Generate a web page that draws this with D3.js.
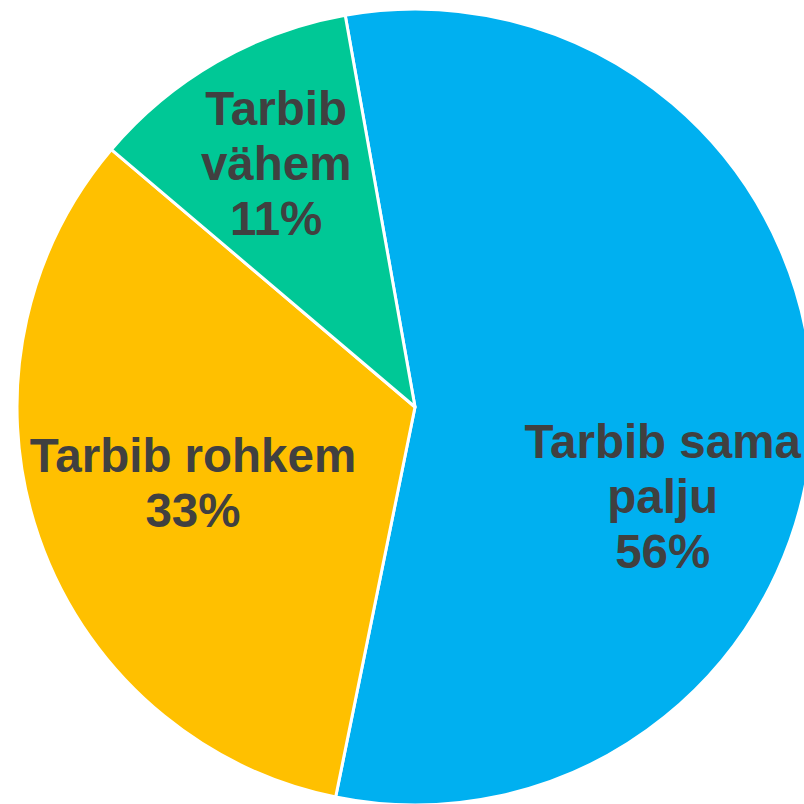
<!DOCTYPE html>
<html>
<head>
<meta charset="utf-8">
<script src="https://cdn.jsdelivr.net/npm/d3@7"></script>
<style>
  html, body { margin: 0; padding: 0; background: #fff; overflow: hidden; }
  svg { display: block; }
</style>
</head>
<body>
<svg id="chart" width="804" height="804"></svg>
<script>
// categories and values (percent)
const categories = ["Tarbib sama palju", "Tarbib rohkem", "Tarbib vähem"];
const values = [56, 33, 11];
const labelLines = [["Tarbib sama", "palju", "56%"], ["Tarbib rohkem", "33%"], ["Tarbib", "vähem", "11%"]];
const colors = ["#00B0F0", "#FFC000", "#00C896"];

const width = 804, height = 804;
const cx = 415, cy = 407, radius = 398;
const startAngle = -10.1 * Math.PI / 180;

const svg = d3.select('#chart');
const g = svg.append('g').attr('transform', `translate(${cx},${cy})`);

const pie = d3.pie()
  .sort(null)
  .value((d) => d)
  .startAngle(startAngle)
  .endAngle(startAngle + 2 * Math.PI);

const arcs = pie(values);
const arc = d3.arc().innerRadius(0).outerRadius(radius);

g.selectAll('path.slice')
  .data(arcs)
  .join('path')
  .attr('class', 'slice')
  .attr('d', arc)
  .attr('fill', (d, i) => colors[i])
  .attr('stroke', '#fff')
  .attr('stroke-width', 3)
  .attr('stroke-linejoin', 'round');

// label placement: radius fraction and small nudges to mimic best-fit labels
const labelRadius = [0.66, 0.585, 0.705];
const labelNudge = [[-15, 86], [-2, 0], [1, 0]];
const fontSize = 47.5, lineHeight = 55;

const labels = g.selectAll('text.lbl')
  .data(arcs)
  .join('text')
  .attr('class', 'lbl')
  .attr('font-family', 'Liberation Sans, Arial, sans-serif')
  .attr('font-weight', 'bold')
  .attr('font-size', fontSize)
  .attr('fill', '#404040')
  .attr('text-anchor', 'middle')
  .attr('transform', (d, i) => {
    const r = radius * labelRadius[i];
    const c = d3.arc().innerRadius(r).outerRadius(r).centroid(d);
    return `translate(${c[0] + labelNudge[i][0]},${c[1] + labelNudge[i][1]})`;
  });

labels.each(function (d, i) {
  const lines = labelLines[i];
  const n = lines.length;
  d3.select(this).selectAll('tspan')
    .data(lines)
    .join('tspan')
    .attr('x', 0)
    .attr('y', (t, j) => (j - (n - 1) / 2) * lineHeight + fontSize * 0.35)
    .text((t) => t);
});
</script>
</body>
</html>
